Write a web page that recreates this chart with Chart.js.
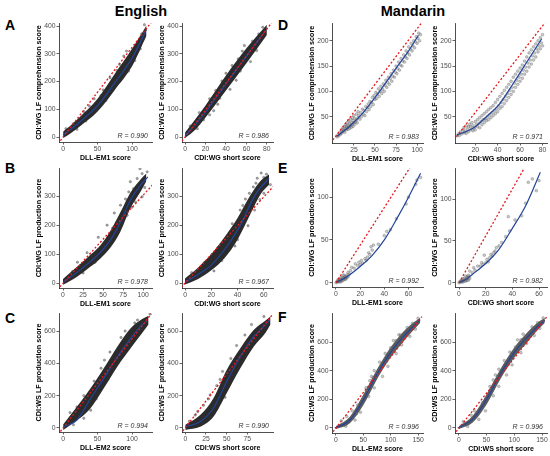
<!DOCTYPE html>
<html>
<head>
<meta charset="utf-8">
<script src="https://cdn.jsdelivr.net/npm/chart.js@4.4.1/dist/chart.umd.min.js"></script>
<style>
body { margin: 0; background: #fff; width: 550px; height: 456px; position: relative; overflow: hidden; font-family: "Liberation Sans", Arial, sans-serif; }
canvas { position: absolute; }
.lang { position: absolute; font-weight: bold; font-size: 14.5px; line-height: 1; transform: translateX(-50%); }
.tag { position: absolute; font-weight: bold; font-size: 14px; line-height: 1; }
</style>
</head>
<body>
<div class="lang" style="left:141px;top:4px">English</div>
<div class="lang" style="left:413px;top:4px">Mandarin</div>
<div class="tag" style="left:5px;top:18px">A</div>
<div class="tag" style="left:5px;top:161px">B</div>
<div class="tag" style="left:5px;top:311px">C</div>
<div class="tag" style="left:278px;top:18px">D</div>
<div class="tag" style="left:278px;top:161px">E</div>
<div class="tag" style="left:278px;top:310px">F</div>
<script>
// tick labels
const ticksA_y = [0, 100, 200, 300, 400];
const ticksB_y = [0, 100, 200, 300];
const ticksC_y = [0, 200, 400, 600];
const ticksD_y = [50, 100, 150, 200];
const ticksE_y = [0, 50, 100];
const ticksF_y = [0, 200, 400, 600];
const ticksA1_x = [0, 50, 100];
const ticksA2_x = [0, 20, 40, 60, 80];
const ticksB1_x = [0, 25, 50, 75, 100];
const ticksB2_x = [0, 20, 40, 60];
const ticksC1_x = [0, 50, 100];
const ticksC2_x = [0, 25, 50, 75];
const ticksD1_x = [25, 50, 75, 100];
const ticksD2_x = [20, 40, 60, 80];
const ticksE_x = [0, 20, 40, 60];
const ticksF_x = [0, 50, 100, 150];

// correlation labels
const rValues = ['0.990', '0.986', '0.978', '0.967', '0.994', '0.990',
                 '0.983', '0.971', '0.992', '0.982', '0.996', '0.996'];

// English, panel A  (red = identity-scaled line, blue = smooth fit, band = dense cloud [x, low, high])
const redA1 = [[-4, -13], [128, 414]];
const blueA1 = [[0, 8], [10, 26], [25, 56], [50, 113], [75, 196], [100, 284], [121, 388]];
const bandA1 = [[0, -4, 20], [10, 12, 40], [25, 40, 74], [50, 92, 138], [75, 170, 228], [100, 255, 318], [121, 365, 402]];
const ptsA1 = [[4, 30], [15, 48], [30, 92], [38, 112], [45, 138], [58, 170], [68, 214], [82, 262], [92, 310], [108, 340], [114, 372], [118, 405], [104, 276], [86, 215], [64, 148], [48, 96], [33, 58], [20, 28], [95, 238], [112, 318], [72, 175], [55, 150], [78, 240], [88, 292], [98, 256], [62, 132], [42, 86]];

const redA2 = [[-3, -15], [85, 414]];
const blueA2 = [[0, 5], [10, 45], [20, 90], [40, 192], [60, 292], [80, 390]];
const bandA2 = [[0, -4, 16], [10, 26, 64], [20, 70, 114], [40, 168, 222], [60, 266, 320], [80, 368, 405]];
const ptsA2 = [[5, 40], [14, 88], [24, 138], [30, 168], [36, 202], [46, 258], [52, 282], [56, 310], [66, 346], [72, 372], [76, 396], [12, 30], [24, 80], [32, 118], [44, 172], [54, 238], [64, 272], [70, 312], [50, 205], [58, 330], [40, 230], [28, 95], [18, 62], [62, 300], [74, 350], [34, 140]];

// English, panel B
const redB1 = [[-4, -13], [112, 340]];
const blueB1 = [[1, 5], [17.5, 37], [34, 74], [46.7, 106], [59, 148], [71.7, 211], [84, 286], [96.7, 338], [105.8, 367]];
const bandB1 = [[0, -6, 14], [17.5, 22, 56], [34, 56, 97], [46.7, 85, 131], [59, 122, 180], [71.7, 178, 245], [84, 258, 312], [96.7, 315, 358], [104, 352, 378]];
const ptsB1 = [[88, 326], [92.5, 361], [98.7, 378], [105, 384], [75.8, 252], [80, 234], [67.5, 211], [71.7, 269], [82, 315], [94.6, 321], [98.7, 298], [90.4, 280], [18, 72], [30, 105], [44, 158], [55, 200], [64, 242], [60, 148], [40, 72], [35, 96], [102, 330], [86, 262], [78, 290], [62, 190], [52, 120], [25, 35], [12, 40], [96, 395], [84, 350], [68, 180]];

const redB2 = [[-3, -15], [68, 337]];
const blueB2 = [[0, 3], [10, 30], [20, 62], [30, 115], [40, 183], [45, 225], [50, 276], [55, 315], [60, 342], [64, 362]];
const bandB2 = [[0, -5, 16], [10, 14, 54], [20, 44, 100], [30, 86, 158], [40, 150, 225], [50, 240, 305], [58, 310, 355], [64, 340, 375]];
const ptsB2 = [[5, 36], [15, 72], [25, 122], [35, 172], [44, 268], [49, 310], [52, 332], [55, 362], [58, 380], [62, 376], [48, 198], [38, 128], [28, 78], [57, 288], [65, 340], [42, 252], [53, 252], [60, 310], [22, 42], [32, 150], [46, 290], [54, 345], [60, 365], [40, 150], [36, 205]];

// English, panel C
const redC1 = [[-4, -22], [128, 706]];
const blueC1 = [[1, 8], [20, 49], [40, 184], [59, 307], [79, 441], [98, 555], [112, 627], [122, 662]];
const bandC1 = [[0, -12, 22], [10.7, 18, 80], [39.8, 122, 245], [59, 245, 369], [78.6, 379, 503], [98, 493, 617], [112.5, 575, 668], [124, 640, 695]];
const ptsC1 = [[10, 95], [20, 130], [30, 200], [45, 290], [55, 370], [68, 470], [84, 560], [90, 600], [108, 668], [115, 610], [95, 505], [80, 405], [65, 300], [52, 215], [40, 110], [30, 60], [126, 705], [15, 20], [104, 650], [72, 370], [60, 420], [48, 180]];

const redC2 = [[-3, -19], [105, 700]];
const blueC2 = [[0, 8], [18, 39], [34, 122], [50, 286], [66.5, 441], [82.6, 565], [94.7, 627], [102, 668]];
const bandC2 = [[0, -12, 20], [18, 8, 80], [34, 70, 184], [50, 215, 359], [66.5, 369, 493], [82.6, 503, 606], [97, 590, 665], [103, 640, 690]];
const ptsC2 = [[5, 42], [15, 102], [22, 140], [30, 205], [38, 262], [45, 350], [55, 430], [62, 510], [72, 575], [80, 640], [95, 690], [22, 30], [30, 70], [40, 150], [48, 190], [58, 330], [70, 420], [86, 540], [12, 80], [76, 480], [28, 180], [42, 300]];

// Mandarin, panel D
const redD1 = [[0, 4], [106, 237]];
const blueD1 = [[4.4, 11], [20, 31], [36, 58], [52, 92], [76, 148], [90, 180], [101.6, 211]];
const ptsD1 = [[5, 10], [6, 14], [7, 12], [8, 18], [9, 15], [10, 22], [10, 17], [11, 25], [12, 20], [12, 28], [13, 23], [14, 30], [14, 19], [15, 26], [15, 34], [16, 24], [16, 31], [17, 28], [17, 38], [18, 25], [18, 33], [19, 30], [19, 42], [20, 27], [20, 36], [21, 32], [21, 45], [22, 29], [22, 38], [23, 35], [23, 48], [24, 31], [24, 42], [25, 38], [25, 52], [26, 35], [26, 46], [27, 40], [28, 44], [28, 55], [29, 38], [30, 48], [30, 60], [31, 52], [32, 45], [33, 58], [34, 50], [35, 65], [36, 55], [37, 62], [38, 52], [39, 70], [40, 60], [41, 68], [42, 75], [43, 64], [44, 80], [45, 70], [46, 78], [47, 88], [48, 74], [49, 92], [50, 84], [51, 98], [52, 86], [53, 95], [54, 105], [55, 90], [56, 100], [57, 110], [58, 96], [59, 104], [60, 115], [61, 100], [62, 112], [63, 122], [64, 108], [65, 118], [66, 128], [67, 114], [68, 125], [69, 135], [70, 120], [71, 130], [72, 142], [73, 128], [74, 138], [75, 150], [76, 135], [77, 145], [78, 158], [79, 142], [80, 152], [81, 165], [82, 150], [83, 160], [84, 172], [85, 158], [86, 168], [87, 180], [88, 165], [89, 176], [90, 188], [91, 172], [92, 184], [93, 195], [94, 180], [95, 190], [96, 200], [97, 186], [98, 198], [99, 208], [100, 195], [101, 205], [102, 215], [103, 200], [104, 212]];

const redD2 = [[3.3, 10.5], [83, 238]];
const blueD2 = [[3.8, 14], [18, 27], [30, 50], [42, 76], [54, 116], [66, 158], [79.3, 204]];
const ptsD2 = [[4, 12], [5, 16], [6, 13], [7, 20], [8, 16], [9, 24], [10, 18], [10, 28], [11, 21], [12, 32], [12, 17], [13, 25], [14, 30], [14, 20], [15, 35], [16, 24], [16, 30], [17, 38], [18, 22], [18, 32], [19, 28], [20, 40], [20, 24], [21, 34], [22, 30], [22, 44], [23, 36], [24, 28], [24, 48], [25, 40], [26, 34], [26, 52], [27, 44], [28, 38], [28, 56], [29, 46], [30, 42], [30, 60], [31, 50], [32, 44], [32, 64], [33, 54], [34, 48], [34, 68], [35, 58], [36, 52], [36, 72], [37, 62], [38, 56], [38, 78], [39, 66], [40, 60], [40, 84], [41, 72], [42, 66], [42, 90], [43, 78], [44, 70], [44, 96], [45, 84], [46, 76], [46, 102], [47, 90], [48, 82], [48, 108], [49, 96], [50, 88], [50, 114], [51, 102], [52, 94], [52, 120], [53, 108], [54, 100], [54, 128], [55, 116], [56, 108], [56, 134], [57, 122], [58, 114], [58, 140], [59, 128], [60, 120], [60, 146], [61, 134], [62, 126], [62, 152], [63, 142], [64, 134], [64, 160], [65, 148], [66, 140], [66, 168], [67, 156], [68, 148], [68, 176], [69, 162], [70, 154], [70, 182], [71, 170], [72, 162], [72, 188], [73, 176], [74, 168], [74, 194], [75, 184], [76, 178], [76, 200], [77, 190], [78, 184], [78, 206], [79, 196], [80, 212], [80, 190]];

// Mandarin, panel E
const redE1 = [[0, 0], [61, 134]];
const blueE1 = [[0, 0], [10, 8], [20, 19], [30, 32], [40, 50], [50, 74], [60, 100], [70, 128]];
const ptsE1 = [[0, 0], [1, 1], [1, 2], [2, 2], [2, 1], [3, 2], [3, 4], [4, 3], [4, 1], [5, 4], [5, 6], [5, 2], [6, 5], [6, 3], [7, 6], [7, 8], [7, 4], [8, 7], [8, 5], [9, 9], [9, 6], [10, 12], [10, 7], [6, 9], [4, 6], [8, 4], [2, 4], [3, 1], [11, 10], [12, 14], [13, 18], [15, 17], [16, 22], [18, 20], [19, 24], [20, 21], [21, 26], [22, 23], [24, 28], [25, 26], [26, 30], [27, 35], [28, 33], [29, 42], [30, 38], [31, 44], [35, 45], [40, 55], [42, 60], [45, 62], [50, 75], [58, 92], [60, 100], [66, 115], [67, 120], [70, 123]];

const redE2 = [[0, 0], [49, 137]];
const blueE2 = [[0, 0], [5, 4], [10, 10], [20, 23], [30, 40], [40, 65], [50, 92], [61, 132]];
const ptsE2 = [[0, 0], [1, 1], [1, 2], [2, 2], [2, 1], [3, 3], [3, 1], [4, 2], [4, 5], [5, 4], [5, 2], [6, 5], [6, 7], [6, 3], [7, 6], [7, 3], [8, 5], [8, 8], [3, 5], [5, 8], [2, 3], [7, 9], [8, 14], [10, 12], [11, 18], [12, 15], [14, 20], [16, 20], [17, 24], [18, 22], [19, 33], [20, 24], [21, 28], [22, 25], [23, 30], [24, 34], [25, 32], [26, 36], [27, 38], [28, 42], [30, 44], [32, 48], [35, 55], [37, 79], [38, 62], [42, 75], [47, 80], [50, 95], [52, 120], [55, 124], [58, 110], [60, 122]];

// Mandarin, panel F
const redF1 = [[-5, -26], [157, 777]];
const blueF1 = [[-2, 0], [25.6, 56], [50, 195], [74.4, 370], [98.7, 521], [123, 637], [141, 707], [153.6, 754]];
const bandF1 = [[0, -8, 12], [25.6, 33, 79], [50, 158, 232], [74.4, 335, 405], [98.7, 485, 557], [123, 602, 672], [141, 680, 735], [154, 735, 770]];
const ptsF1 = [[10, 50], [18, 12], [30, 120], [35, 55], [40, 160], [45, 110], [55, 280], [60, 220], [65, 360], [70, 280], [80, 460], [85, 360], [90, 520], [95, 430], [105, 610], [110, 520], [115, 650], [120, 580], [130, 700], [135, 640], [140, 730], [145, 690], [150, 765], [62, 330], [70, 400], [20, 80], [38, 100], [58, 260], [68, 350], [110, 610], [118, 650], [100, 560]];

const redF2 = [[-5, -26], [159, 777]];
const blueF2 = [[-2, 0], [25, 62], [50, 200], [75, 378], [100, 528], [125, 640], [141, 705], [155, 752]];
const bandF2 = [[0, -8, 12], [25, 38, 86], [50, 164, 236], [75, 342, 412], [100, 492, 562], [125, 606, 674], [141, 678, 733], [155, 733, 768]];
const ptsF2 = [[8, 45], [16, 10], [28, 120], [36, 60], [42, 175], [48, 120], [56, 290], [62, 225], [66, 370], [72, 290], [82, 470], [86, 370], [92, 530], [96, 440], [106, 615], [112, 525], [116, 655], [122, 590], [132, 705], [136, 645], [142, 735], [146, 695], [152, 768], [62, 335], [72, 410], [22, 90], [58, 270], [70, 360], [112, 615], [102, 565]];

// panel placement (plot area in page px) and axis ranges
const panels = [
    { box: [59, 23, 152, 142], x: [-6, 129], y: [-18, 411], xt: ticksA1_x, yt: ticksA_y, xTitle: 'DLL-EM1 score', yTitle: 'CDI:WG LF comprehension score', red: redA1, blue: blueA1, band: bandA1, pts: ptsA1 },
    { box: [182, 23, 273, 142], x: [-3, 86], y: [-18, 411], xt: ticksA2_x, yt: ticksA_y, xTitle: 'CDI:WG short score', yTitle: 'CDI:WG LF comprehension score', red: redA2, blue: blueA2, band: bandA2, pts: ptsA2 },
    { box: [59, 168, 152, 288], x: [-5, 111], y: [-17, 397], xt: ticksB1_x, yt: ticksB_y, xTitle: 'DLL-EM1 score', yTitle: 'CDI:WG LF production score', red: redB1, blue: blueB1, band: bandB1, pts: ptsB1 },
    { box: [182, 168, 273, 288], x: [-2.3, 67], y: [-17, 397], xt: ticksB2_x, yt: ticksB_y, xTitle: 'CDI:WG short score', yTitle: 'CDI:WG LF production score', red: redB2, blue: blueB2, band: bandB2, pts: ptsB2 },
    { box: [59, 313, 152, 432], x: [-6, 129], y: [-25, 711], xt: ticksC1_x, yt: ticksC_y, xTitle: 'DLL-EM2 score', yTitle: 'CDI:WS LF production score', red: redC1, blue: blueC1, band: bandC1, pts: ptsC1 },
    { box: [182, 313, 273, 432], x: [-4, 106], y: [-25, 711], xt: ticksC2_x, yt: ticksC_y, xTitle: 'CDI:WS short score', yTitle: 'CDI:WS LF production score', red: redC2, blue: blueC2, band: bandC2, pts: ptsC2 },
    { box: [332, 23, 423, 143], x: [-1, 107], y: [-2, 235], xt: ticksD1_x, yt: ticksD_y, xTitle: 'DLL-EM1 score', yTitle: 'CDI:WG LF comprehension score', red: redD1, blue: blueD1, band: null, pts: ptsD1 },
    { box: [455, 23, 547, 143], x: [2, 84], y: [-2, 235], xt: ticksD2_x, yt: ticksD_y, xTitle: 'CDI:WG short score', yTitle: 'CDI:WG LF comprehension score', red: redD2, blue: blueD2, band: null, pts: ptsD2 },
    { box: [332, 168, 423, 287], x: [-3.3, 72], y: [-5, 134], xt: ticksE_x, yt: ticksE_y, xTitle: 'DLL-EM1 score', yTitle: 'CDI:WG LF production score', red: redE1, blue: blueE1, band: null, pts: ptsE1 },
    { box: [455, 168, 547, 287], x: [-3, 66], y: [-5, 137], xt: ticksE_x, yt: ticksE_y, xTitle: 'CDI:WG short score', yTitle: 'CDI:WG LF production score', red: redE2, blue: blueE2, band: null, pts: ptsE2 },
    { box: [332, 313, 423, 433], x: [-7, 159], y: [-35, 802], xt: ticksF_x, yt: ticksF_y, xTitle: 'DLL-EM2 score', yTitle: 'CDI:WS LF production score', red: redF1, blue: blueF1, band: bandF1, pts: ptsF1 },
    { box: [455, 313, 547, 433], x: [-7, 159], y: [-35, 802], xt: ticksF_x, yt: ticksF_y, xTitle: 'CDI:WS short score', yTitle: 'CDI:WS LF production score', red: redF2, blue: blueF2, band: bandF2, pts: ptsF2 }
];

const FONT = '"Liberation Sans", Arial, sans-serif';
const Y_W = 24, X_H = 20, PAD_T = 5, PAD_R = 6;

const xy = arr => arr.map(p => ({ x: p[0], y: p[1] }));

const rLabel = {
    id: 'rLabel',
    afterDatasetsDraw(chart, args, opts) {
        const { ctx, chartArea } = chart;
        ctx.save();
        ctx.font = 'italic 7px ' + FONT;
        ctx.fillStyle = '#333';
        ctx.textAlign = 'right';
        ctx.fillText('R = ' + opts.text, chartArea.right - 4, chartArea.bottom - 4);
        ctx.restore();
    }
};

function axis(min, max, ticks, title, isX) {
    return {
        type: 'linear',
        min: min,
        max: max,
        afterBuildTicks: s => { s.ticks = ticks.map(v => ({ value: v })); },
        afterFit: s => { if (isX) s.height = X_H; else s.width = Y_W; },
        border: { display: true, color: '#222', width: 0.8 },
        grid: { drawOnChartArea: false, drawTicks: true, tickLength: 2.5, tickColor: '#222', tickWidth: 0.7 },
        ticks: {
            font: { family: FONT, size: 6.8 },
            color: '#4d4d4d',
            padding: 1,
            maxRotation: 0,
            autoSkip: false,
            callback: v => String(v)
        },
        title: {
            display: true,
            text: title,
            color: '#000',
            font: { family: FONT, size: isX ? 7 : 7.2, weight: 'bold' },
            padding: 0
        }
    };
}

function makePanel(p, i) {
    const [l, t, r, b] = p.box;
    const cw = Y_W + (r - l) + PAD_R;
    const ch = PAD_T + (b - t) + X_H;
    const canvas = document.createElement('canvas');
    canvas.width = cw;
    canvas.height = ch;
    canvas.style.left = (l - Y_W) + 'px';
    canvas.style.top = (t - PAD_T) + 'px';
    canvas.style.width = cw + 'px';
    canvas.style.height = ch + 'px';
    document.body.appendChild(canvas);

    const isDenseEnglish = i < 6;
    const datasets = [
        {
            type: 'line', data: xy(p.red), borderColor: '#e41a1c', borderWidth: 1.3,
            borderDash: [2, 2], pointRadius: 0, fill: false
        },
        {
            type: 'line', data: xy(p.blue), borderColor: '#22449a', borderWidth: 1.2,
            pointRadius: 0, fill: false, cubicInterpolationMode: 'monotone'
        },
        {
            type: 'scatter', data: xy(p.pts), pointRadius: isDenseEnglish ? 1.2 : 1.4,
            backgroundColor: isDenseEnglish ? 'rgba(60,60,60,0.45)' : 'rgba(120,120,120,0.4)',
            borderColor: isDenseEnglish ? 'rgba(40,40,40,0.5)' : 'rgba(80,80,80,0.55)',
            borderWidth: 0.5
        }
    ];
    if (p.band) {
        const bandColor = isDenseEnglish ? 'rgba(25,25,25,0.92)' : 'rgba(50,50,50,0.8)';
        datasets.push({
            type: 'line', data: p.band.map(q => ({ x: q[0], y: q[1] })), borderWidth: 0,
            pointRadius: 0, fill: false, cubicInterpolationMode: 'monotone'
        });
        datasets.push({
            type: 'line', data: p.band.map(q => ({ x: q[0], y: q[2] })), borderWidth: 0,
            pointRadius: 0, fill: { target: 3 }, backgroundColor: bandColor,
            cubicInterpolationMode: 'monotone'
        });
    }

    new Chart(canvas.getContext('2d'), {
        type: 'scatter',
        data: { datasets: datasets },
        options: {
            responsive: false,
            animation: false,
            events: [],
            layout: { padding: { left: 0, top: PAD_T, right: PAD_R, bottom: 0 } },
            plugins: {
                legend: { display: false },
                tooltip: { enabled: false },
                rLabel: { text: rValues[i] }
            },
            scales: {
                x: axis(p.x[0], p.x[1], p.xt, p.xTitle, true),
                y: axis(p.y[0], p.y[1], p.yt, p.yTitle, false)
            }
        },
        plugins: [rLabel]
    });
}

panels.forEach(makePanel);
</script>
</body>
</html>
